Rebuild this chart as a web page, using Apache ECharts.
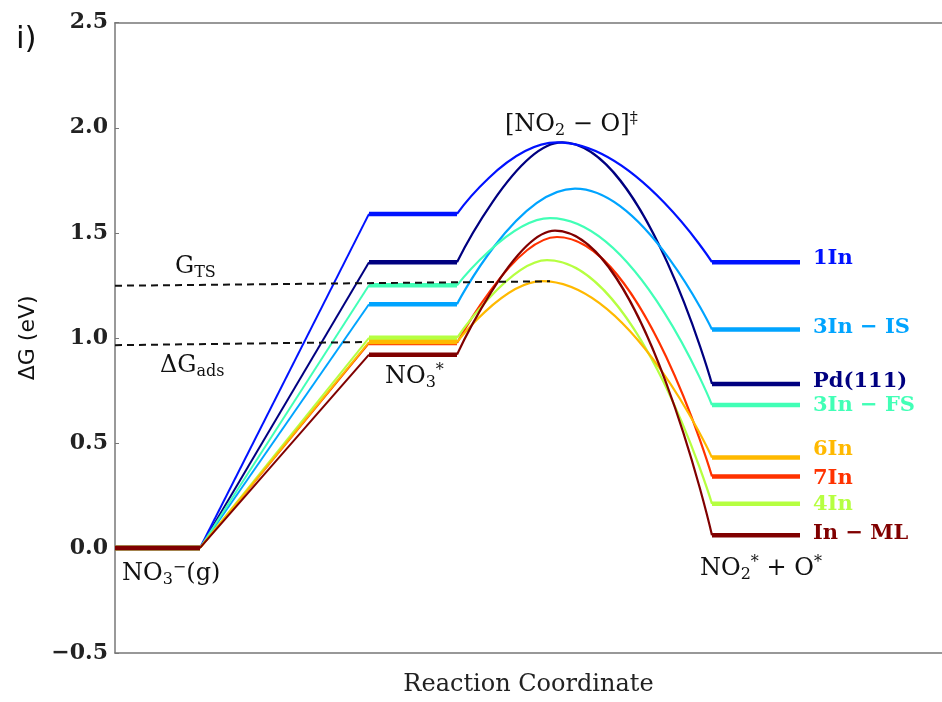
<!DOCTYPE html>
<html>
<head>
<meta charset="utf-8">
<script src="https://cdn.jsdelivr.net/npm/echarts@6/dist/echarts.min.js"></script>
<style>html,body{margin:0;padding:0;background:#fff}#c{width:942px;height:702px}</style>
</head>
<body>
<div id="c"></div>
<script>
// ---- data ----
const systems = ['Pd(111)', '1In', '3In − IS', '3In − FS', '7In', '4In', '6In', 'In − ML'];
const colors  = ['#000080', '#0012ff', '#00a4ff', '#41ffb6', '#ff3200', '#b6ff41', '#ffb900', '#800000'];
const adsE    = [1.36, 1.59, 1.16, 1.25, 0.975, 1.00, 0.98, 0.92];   // NO3*
const tsE     = [1.93, 1.93, 1.71, 1.57, 1.48, 1.37, 1.27, 1.51];    // [NO2-O]‡
const tsX     = [447, 442, 460, 435, 442, 432, 427, 440];            // position of TS on reaction coordinate
const finalE  = [0.78, 1.36, 1.04, 0.68, 0.34, 0.21, 0.43, 0.06];    // NO2* + O*
const stageX  = [0, 85, 254, 342, 597, 685];                          // stage boundaries on reaction coordinate
const yTicks  = [-0.5, 0.0, 0.5, 1.0, 1.5, 2.0, 2.5];
const gtsLine  = [[0, 1.248], [435, 1.269]];
const gadsLine = [[0, 0.965], [250, 0.98]];
const annoText = ['NO3-(g)', 'NO3*', 'TS', 'GTS', 'Gads', 'final'];
const annoPos  = [[7, -0.125], [270, 0.815], [390, 2.015], [60, 1.337], [45, 0.868], [585, -0.10]];

// ---- styles ----
const labelDy = [-3, -4, -2, 0, 2, 1, -8, -2];
const serif = 'DejaVu Serif';
const richStyles = {
  m: {fontFamily: serif, fontSize: 24, color: '#111'},
  s: {fontFamily: serif, fontSize: 16, color: '#111', padding: [12, 0, 0, 0]},
  p: {fontFamily: serif, fontSize: 16, color: '#111', padding: [0, 0, 12, 0]}
};
const annoFmt = {
  'NO3-(g)': '{m|NO}{s|3}{p|−}{m|(g)}',
  'NO3*': '{m|NO}{s|3}{p|*}',
  'TS': '{m|[NO}{s|2}{m| − O]}{p|‡}',
  'GTS': '{m|G}{s|TS}',
  'Gads': '{m|ΔG}{s|ads}',
  'final': '{m|NO}{s|2}{p|*}{m| + O}{p|*}'
};

const series = [];
systems.forEach((name, i) => {
  const c = colors[i];
  series.push({
    type: 'line', name: name, silent: true, symbol: 'none',
    lineStyle: {color: c, width: 4.5}, itemStyle: {color: c},
    data: [[stageX[0], 0], [stageX[1], 0], [stageX[1], '-'],
           [stageX[2], adsE[i]], [stageX[3], adsE[i]], [stageX[3], '-'],
           [stageX[4], finalE[i]], [stageX[5], finalE[i]]],
    endLabel: {show: true, formatter: name, color: c, fontFamily: serif, fontWeight: 'bold',
               fontSize: 21, distance: 13, offset: [0, labelDy[i]]}
  });
  series.push({
    type: 'line', silent: true, symbol: 'none',
    lineStyle: {color: c, width: 2},
    data: [[stageX[1], 0], [stageX[2], adsE[i]]]
  });
  series.push({
    type: 'line', silent: true, symbol: 'none', smooth: 0.5,
    lineStyle: {color: c, width: 2.2},
    data: [[stageX[3], adsE[i]], [tsX[i], tsE[i]], [stageX[4], finalE[i]]]
  });
});
[gtsLine, gadsLine].forEach(d => series.push({
  type: 'line', silent: true, symbol: 'none', z: 5,
  lineStyle: {color: '#111', width: 2, type: [7, 5]}, data: d
}));
series.push({
  type: 'scatter', silent: true, symbolSize: 0, z: 6,
  itemStyle: {opacity: 1},
  data: annoPos.map((p, k) => ({value: p, name: annoText[k]})),
  label: {show: true, position: 'right', distance: 0, color: '#111', opacity: 1,
          formatter: p => annoFmt[p.name], rich: richStyles}
});

const chart = echarts.init(document.getElementById('c'), null, {renderer: 'canvas'});
chart.setOption({
  animation: false,
  backgroundColor: '#fff',
  grid: {left: 115, right: 0, top: 22.7, bottom: 46},
  graphic: [{type: 'text', left: 16, top: 24,
             style: {text: 'i)', font: '31px "DejaVu Sans"', fill: '#111'}}],
  xAxis: [{
    type: 'value', min: 0, max: 827, position: 'bottom',
    axisLine: {show: true, onZero: false, lineStyle: {color: '#777', width: 1.5}},
    axisTick: {show: false}, axisLabel: {show: false}, splitLine: {show: false},
    name: 'Reaction Coordinate', nameLocation: 'middle', nameGap: 20,
    nameTextStyle: {fontFamily: serif, fontSize: 24, color: '#222', verticalAlign: 'top'}
  }, {
    type: 'value', min: 0, max: 827, position: 'top',
    axisLine: {show: true, onZero: false, lineStyle: {color: '#777', width: 1.5}},
    axisTick: {show: false}, axisLabel: {show: false}, splitLine: {show: false}
  }],
  yAxis: {
    type: 'value', min: yTicks[0], max: yTicks[yTicks.length - 1], interval: 0.5,
    axisLine: {show: true, onZero: false, lineStyle: {color: '#777', width: 1.5}},
    axisTick: {show: true, inside: true, length: 4, lineStyle: {color: '#777'}},
    splitLine: {show: false},
    axisLabel: {margin: 7, fontFamily: serif, fontWeight: 'bold', fontSize: 22, color: '#222',
                formatter: v => (v < 0 ? '−' : '') + Math.abs(v).toFixed(1)},
    name: 'ΔG (eV)', nameLocation: 'middle', nameRotate: 90, nameGap: 76,
    nameTextStyle: {fontFamily: 'DejaVu Sans', fontSize: 22, color: '#111'}
  },
  series: series
});
</script>
</body>
</html>
